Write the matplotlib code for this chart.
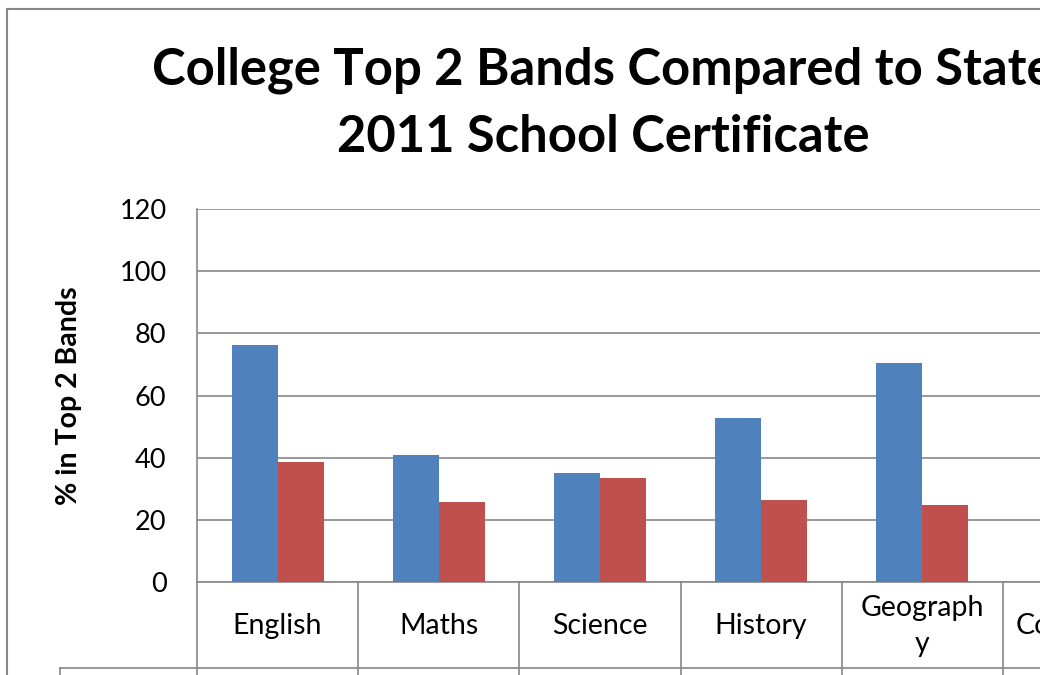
import numpy as np
import matplotlib
matplotlib.use("Agg")
import matplotlib.pyplot as plt
from matplotlib.lines import Line2D
from matplotlib.transforms import blended_transform_factory

plt.rcParams['font.family'] = ['Lato', 'DejaVu Sans']

# data
categories = ["English", "Maths", "Science", "History", "Geograph\ny", "Commerce"]
college = [76.3, 40.9, 35.1, 52.8, 70.5]
state = [38.6, 25.7, 33.5, 26.4, 24.8]
y_ticks = [0, 20, 40, 60, 80, 100, 120]

blue = "#4F81BD"
red = "#C0504D"
grey = "#878787"

W, H = 1040, 675
fig = plt.figure(figsize=(W / 100, H / 100), dpi=100)
fig.patch.set_facecolor("white")

# plot area runs past the right edge, as in the cropped reference
ax = fig.add_axes([197 / W, 1 - 582 / H, 967 / W, 373 / H])
ax.set_xlim(-0.5, len(categories) - 0.5)
ax.set_ylim(0, 120)

bw = 0.285
x = np.arange(len(college))
ax.bar(x - bw / 2, college, bw, color=blue, zorder=3)
ax.bar(x + bw / 2, state, bw, color=red, zorder=3)

ax.set_yticks(y_ticks)
ax.set_yticklabels([str(t) for t in y_ticks], fontsize=19.5)
ax.tick_params(axis="y", length=0, pad=22)
ax.set_xticks([])
ax.yaxis.grid(True, color=grey, linewidth=1.2, zorder=0)
for s in ["top", "right"]:
    ax.spines[s].set_visible(False)
for s in ["left", "bottom"]:
    ax.spines[s].set_color(grey)
    ax.spines[s].set_linewidth(1.2)

ax.set_ylabel("% in Top 2 Bands", fontsize=20.5, fontweight="bold", labelpad=27)

# data table header below the axis
tr = blended_transform_factory(ax.transData, ax.transAxes)
row_h = 86 / 373
for i in range(len(categories) + 1):
    ax.add_line(Line2D([i - 0.5, i - 0.5], [0, -0.4], transform=tr,
                       color=grey, linewidth=1.2, clip_on=False))
for i, name in enumerate(categories):
    ax.text(i, -0.118, name, transform=tr, ha="center", va="center",
            fontsize=20.5, linespacing=1.45)
left_frac = (60 - 197) / 967
ax.add_line(Line2D([left_frac, 1], [-row_h, -row_h], transform=ax.transAxes,
                   color=grey, linewidth=1.2, clip_on=False))
ax.add_line(Line2D([left_frac, left_frac], [-row_h, -0.4], transform=ax.transAxes,
                   color=grey, linewidth=1.2, clip_on=False))

# chart border
bx, by = 7 / W, 1 - 9 / H
fig.add_artist(Line2D([bx, bx], [0, by], color=grey, linewidth=1.5))
fig.add_artist(Line2D([bx, 1], [by, by], color=grey, linewidth=1.5))

fig.text(603 / W, 1 - 70 / H, "College Top 2 Bands Compared to State",
         ha="center", va="center", fontsize=36.5, fontweight="bold")
fig.text(603 / W, 1 - 138 / H, "2011 School Certificate",
         ha="center", va="center", fontsize=36.5, fontweight="bold")

fig.savefig("out.png", dpi=100)
